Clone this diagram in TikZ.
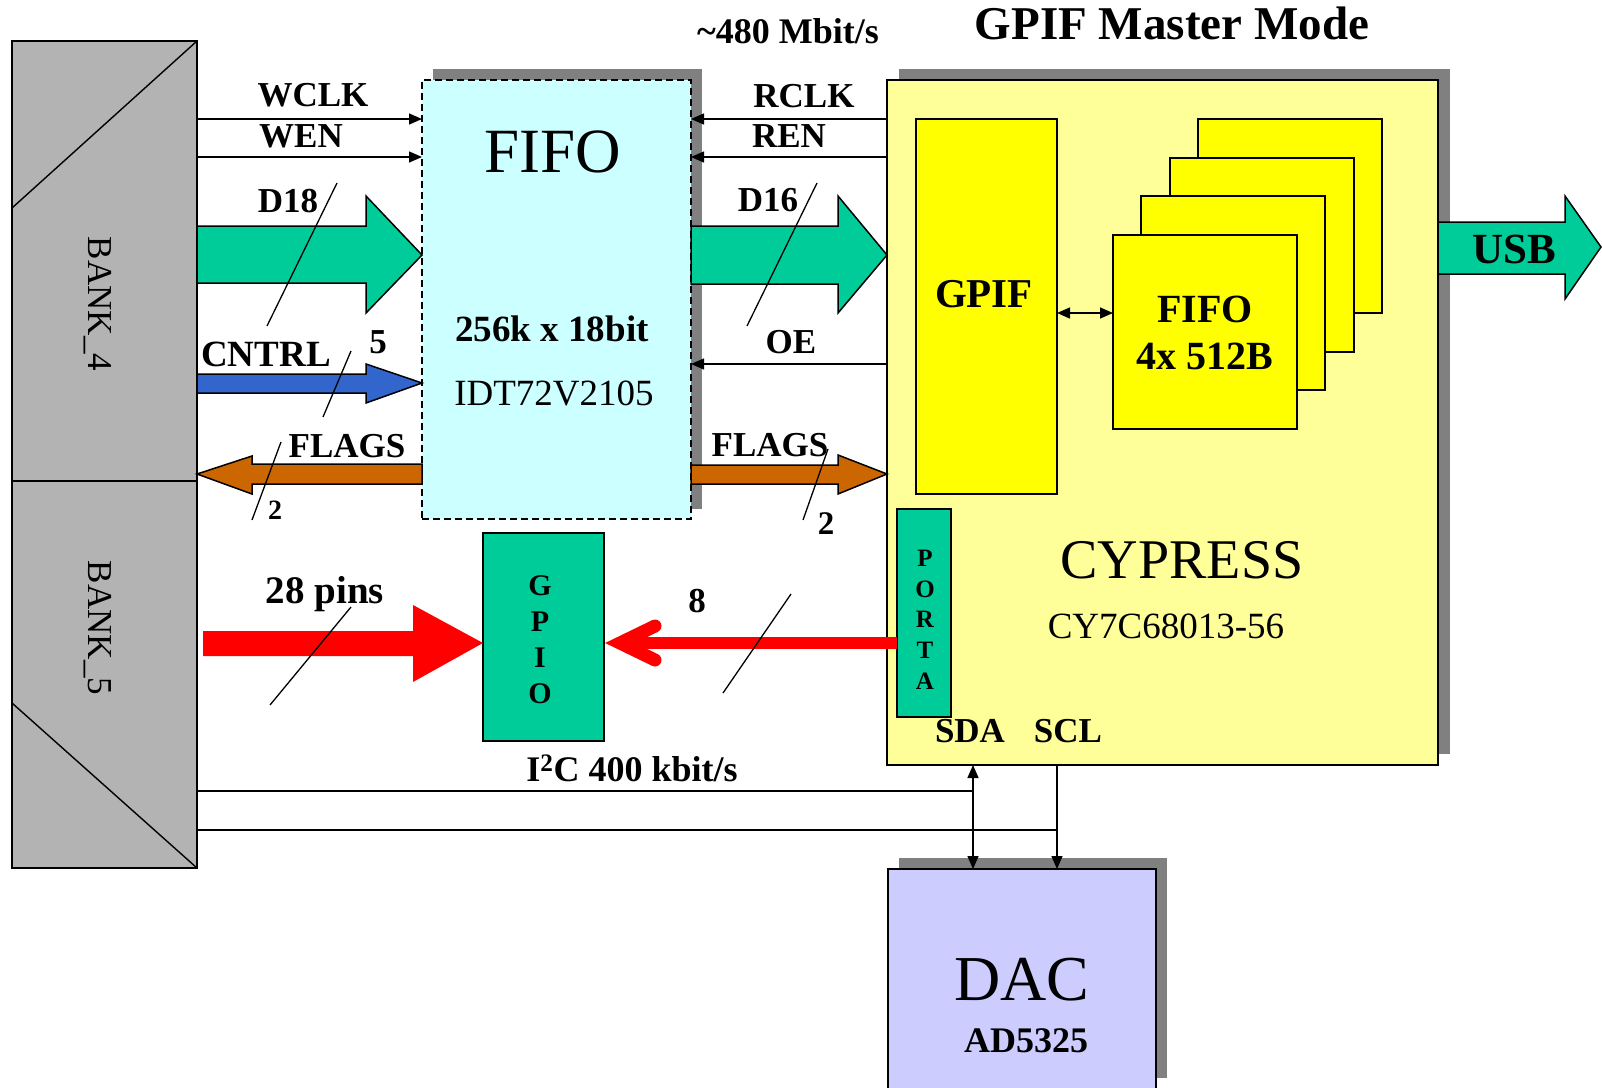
\documentclass[tikz,border=0pt]{standalone}
\usepackage{fontspec}
\setmainfont{Liberation Serif}
\usetikzlibrary{arrows.meta,calc}
\definecolor{bankgray}{HTML}{B3B3B3}
\definecolor{fifocyan}{HTML}{CCFFFF}
\definecolor{cyyellow}{HTML}{FFFF99}
\definecolor{brightyellow}{HTML}{FFFF00}
\definecolor{mygreen}{HTML}{00CC99}
\definecolor{ctrlblue}{HTML}{3366CC}
\definecolor{flagorange}{HTML}{CC6600}
\definecolor{dacblue}{HTML}{CCCCFF}
\definecolor{shadowgray}{HTML}{808080}
\begin{document}
\begin{tikzpicture}[x=1pt,y=-1pt,
  box/.style={draw=black, line width=1.8pt, inner sep=0pt, outer sep=0pt, anchor=north west},
  sig/.style={line width=1.4pt, -{Triangle[length=13pt,width=11pt]}},
  sigboth/.style={line width=1.4pt, {Triangle[length=13pt,width=11pt]}-{Triangle[length=13pt,width=11pt]}},
  slash/.style={line width=1.3pt},
  blk/.style={draw=black, line width=1.5pt, line join=miter},
  btxt/.style={anchor=base, inner sep=0pt, font=\fontsize{#1}{#1}\selectfont\bfseries},
  rtxt/.style={anchor=base, inner sep=0pt, font=\fontsize{#1}{#1}\selectfont},
]
\useasboundingbox (0,0) rectangle (1602,1087);

% ---------- BANK ----------
\node[box, fill=bankgray, minimum width=185pt, minimum height=827pt] (bank) at (12,41) {};
\draw[line width=1.4pt] (bank.north east) -- (bank.west |- 0,208);
\draw[line width=1.4pt] (bank.west |- 0,703) -- (bank.south east);
\draw[line width=1.8pt] (bank.west |- 0,481) -- (bank.east |- 0,481);
\node[rtxt=35, anchor=center, rotate=-90] (bank4) at (98,304) {BANK\_4};
\node[rtxt=35, anchor=center, rotate=-90] (bank5) at (98,628) {BANK\_5};

% ---------- FIFO ----------
\fill[shadowgray] (433,69) rectangle (702,509);
\node[box, fill=fifocyan, dash pattern=on 7pt off 4pt, minimum width=269pt, minimum height=439pt] (fifo) at (422,80) {};
\node[rtxt=63] (tfifo) at (553,172) {FIFO};
\node[btxt=37] (tsize) at (552,341) {256k x 18bit};
\node[rtxt=37] (tidt) at (554,405) {IDT72V2105};

% ---------- CYPRESS ----------
\fill[shadowgray] (899,69) rectangle (1450,754);
\node[box, fill=cyyellow, minimum width=551pt, minimum height=685pt] (cy) at (887,80) {};
\node[box, fill=brightyellow, minimum width=141pt, minimum height=375pt] (gpif) at (916,119) {};
\node[box, fill=brightyellow, minimum width=184pt, minimum height=194pt] (f4) at (1198,119) {};
\node[box, fill=brightyellow, minimum width=184pt, minimum height=194pt] (f3) at (1169.6,157.6) {};
\node[box, fill=brightyellow, minimum width=184pt, minimum height=194pt] (f2) at (1141.3,196.3) {};
\node[box, fill=brightyellow, minimum width=184pt, minimum height=194pt] (f1) at (1113,235) {};
\node[btxt=41] (tgpif) at (984,307) {GPIF};
\node[btxt=40] (tf1a) at (1205,322) {FIFO};
\node[btxt=40] (tf1b) at (1205,369) {4x 512B};
\draw[sigboth] (gpif.east |- 0,313) -- (f1.west |- 0,313);
\node[rtxt=56] (tcy) at (1182,578) {CYPRESS};
\node[rtxt=37] (tcyp) at (1166,638) {CY7C68013-56};
\node[box, fill=mygreen, minimum width=54pt, minimum height=208pt] (porta) at (897,509) {};
\foreach \l/\yy [count=\i] in {P/566,O/597,R/627,T/658,A/689}
  \node[btxt=25] (pa\i) at (925,\yy) {\l};
\node[btxt=35] (tsda) at (970,742) {SDA};
\node[btxt=35] (tscl) at (1068,742) {SCL};

% ---------- GPIO ----------
\node[box, fill=mygreen, minimum width=121pt, minimum height=208pt] (gpio) at (483,533) {};
\foreach \l/\yy [count=\i] in {G/595,P/631,I/667,O/703}
  \node[btxt=30] (gp\i) at (540,\yy) {\l};

% ---------- DAC ----------
\fill[shadowgray] (899,858) rectangle (1167,1078);
\node[box, fill=dacblue, minimum width=268pt, minimum height=225pt] (dac) at (888,869) {};
\node[rtxt=64] (tdac) at (1022,1000) {DAC};
\node[btxt=36] (tad) at (1026,1052) {AD5325};

% ---------- titles ----------
\node[btxt=47] (ttitle) at (1172,39) {GPIF Master Mode};
\node[btxt=36] (trate) at (788,43) {\textasciitilde480 Mbit/s};

% ---------- left thin signals ----------
\draw[sig] (bank.east |- 0,119) -- (fifo.west |- 0,119);
\draw[sig] (bank.east |- 0,157) -- (fifo.west |- 0,157);
\node[btxt=35] (twclk) at (313,106) {WCLK};
\node[btxt=35] (twen) at (301,147) {WEN};

% D18 block arrow
\path[blk, fill=mygreen] (bank.east |- 0,226) -- (366,226) -- (366,196) -- (fifo.west |- 0,255)
  -- (366,313) -- (366,283) -- (bank.east |- 0,283) -- cycle;
\node[btxt=35] (td18) at (288,212) {D18};
% CNTRL block arrow
\path[blk, fill=ctrlblue] (bank.east |- 0,374) -- (366,374) -- (366,364) -- (fifo.west |- 0,383)
  -- (366,403) -- (366,393) -- (bank.east |- 0,393) -- cycle;
\node[btxt=37] (tcntrl) at (266,366) {CNTRL};
\node[btxt=35] (t5) at (378,353) {5};
% FLAGS left
\path[blk, fill=flagorange] (fifo.west |- 0,464) -- (252,464) -- (252,456) -- (bank.east |- 0,474)
  -- (252,494) -- (252,484) -- (fifo.west |- 0,484) -- cycle;
\node[btxt=35] (tflagsl) at (347,457) {FLAGS};
\node[btxt=28] (t2l) at (275,519) {2};

% ---------- right thin signals ----------
\draw[sig] (cy.west |- 0,119) -- (fifo.east |- 0,119);
\draw[sig] (cy.west |- 0,157) -- (fifo.east |- 0,157);
\draw[sig] (cy.west |- 0,364) -- (fifo.east |- 0,364);
\node[btxt=35] (trclk) at (804,107) {RCLK};
\node[btxt=35] (tren) at (789,147) {REN};
\node[btxt=35] (toe) at (791,353) {OE};
% D16
\path[blk, fill=mygreen] (fifo.east |- 0,226) -- (838,226) -- (838,196) -- (cy.west |- 0,255)
  -- (838,313) -- (838,284) -- (fifo.east |- 0,284) -- cycle;
\node[btxt=35] (td16) at (768,211) {D16};
% FLAGS right
\path[blk, fill=flagorange] (fifo.east |- 0,465) -- (838,465) -- (838,455) -- (cy.west |- 0,474)
  -- (838,494) -- (838,484) -- (fifo.east |- 0,484) -- cycle;
\node[btxt=35] (tflagsr) at (770,456) {FLAGS};
\node[btxt=33] (t2r) at (826,534) {2};

% USB
\path[blk, fill=mygreen] (cy.east |- 0,222) -- (1565,222) -- (1565,196) -- (1601,247)
  -- (1565,299) -- (1565,274) -- (cy.east |- 0,274) -- cycle;
\node[btxt=43] (tusb) at (1514,263) {USB};

% ---------- red arrows ----------
\fill[red] (203,631) -- (413,631) -- (413,605) -- (gpio.west |- 0,643) -- (413,682) -- (413,656) -- (203,656) -- cycle;
\node[btxt=39] (tpins) at (325,603) {28 pins};
\draw[red, line width=12pt] (porta.west |- 0,643) -- (624,643);
\draw[red, line width=13pt, line cap=round, line join=miter] (655,626) -- (620,643) -- (655,660);
\node[btxt=35] (t8) at (697,612) {8};

% ---------- I2C ----------
\coordinate (sdax) at (973,0);
\coordinate (sclx) at (1057,0);
\draw[line width=1.4pt] (bank.east |- 0,791) -- (sdax |- 0,791);
\draw[line width=1.4pt] (bank.east |- 0,830) -- (sclx |- 0,830);
\draw[sigboth] (cy.south -| sdax) -- (dac.north -| sdax);
\draw[sig] (cy.south -| sclx) -- (dac.north -| sclx);
\node[btxt=36] (ti2c) at (632,781) {I\textsuperscript{2}C 400 kbit/s};

% ---------- bus width slashes ----------
\draw[slash] (337,183) -- (267,326);
\draw[slash] (351,351) -- (323,417);
\draw[slash] (281,442) -- (252,520);
\draw[slash] (817,183) -- (747,326);
\draw[slash] (828,449) -- (803,520);
\draw[slash] (351,607) -- (270,705);
\draw[slash] (791,594) -- (723,693);
\end{tikzpicture}
\end{document}
